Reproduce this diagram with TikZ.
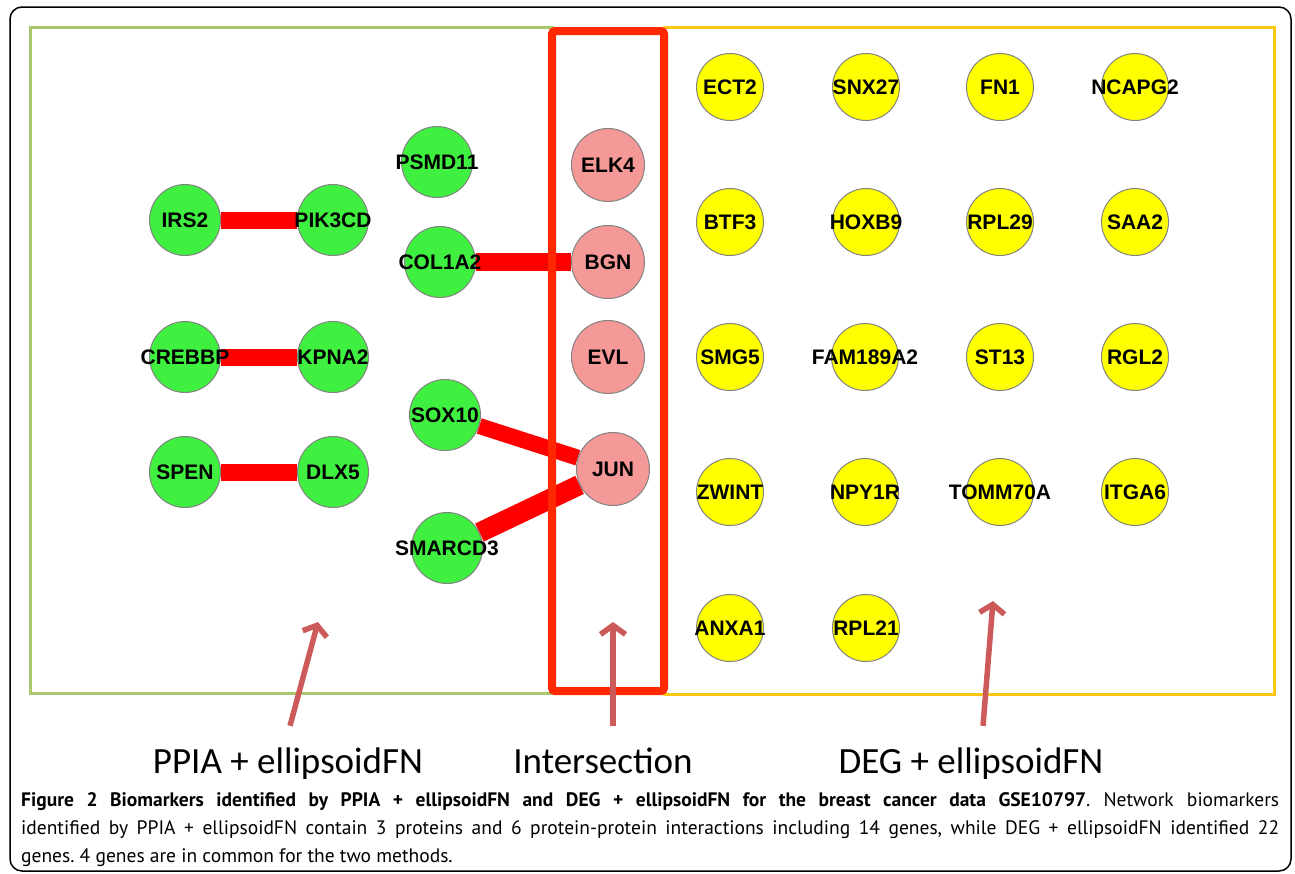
\documentclass[tikz,border=0pt]{standalone}
\usepackage{fontspec}
\setmainfont{Carlito}
\newfontfamily\genefont{Liberation Sans}
\newfontfamily\capfont{PT Sans}
\usetikzlibrary{arrows.meta,positioning}
\pgfdeclarelayer{background}
\pgfsetlayers{background,main}
\definecolor{BoxGreen}{RGB}{168,200,110}
\definecolor{BoxYellow}{RGB}{250,200,20}
\definecolor{BoxRed}{RGB}{255,40,0}
\definecolor{EdgeRed}{RGB}{255,0,0}
\definecolor{NodeGreen}{RGB}{64,240,64}
\definecolor{NodePink}{RGB}{245,152,152}
\definecolor{NodeYellow}{RGB}{255,255,0}
\definecolor{ArrowRed}{RGB}{205,90,90}
\definecolor{RimGray}{RGB}{130,130,130}

\begin{document}
\begin{tikzpicture}[x=1pt,y=-1pt,
    gene/.style={circle,draw=RimGray,line width=1pt,inner sep=0pt,minimum size=71pt},
    greengene/.style={gene,fill=NodeGreen},
    pinkgene/.style={gene,fill=NodePink,minimum size=73pt},
    yellowgene/.style={gene,fill=NodeYellow,minimum size=67pt},
    genename/.style={font=\genefont\bfseries\fontsize{21}{21}\selectfont,inner sep=0pt},
    ppi/.style={EdgeRed,line width=17pt},
    pointer/.style={ArrowRed,line width=5.5pt,-{Straight Barb[length=9pt,width=25pt]}},
    bigtag/.style={font=\fontsize{37}{37}\selectfont,anchor=base,inner sep=0pt,
      text height=26pt,text depth=8pt}]
  \useasboundingbox (0,0) rectangle (1295,873);
  \draw[line width=1.5pt,rounded corners=12pt] (10,7) rectangle (1291,871);

  % PPIA + ellipsoidFN
  \node[greengene,label={[genename]center:IRS2}] (irs2) at (185,220) {};
  \node[greengene,label={[genename]center:PIK3CD}] (pik3cd) at (333,220) {};
  \node[greengene,label={[genename]center:CREBBP}] (crebbp) at (185,357) {};
  \node[greengene,label={[genename]center:KPNA2}] (kpna2) at (333,357) {};
  \node[greengene,label={[genename]center:SPEN}] (spen) at (185,472) {};
  \node[greengene,label={[genename]center:DLX5}] (dlx5) at (333,472) {};
  \node[greengene,label={[genename]center:PSMD11}] (psmd11) at (437,162) {};
  \node[greengene,label={[genename]center:COL1A2}] (col1a2) at (440,262) {};
  \node[greengene,label={[genename]center:SOX10}] (sox10) at (445,415) {};
  \node[greengene,label={[genename]center:SMARCD3}] (smarcd3) at (447,548) {};

  % intersection
  \node[pinkgene,label={[genename]center:ELK4}] (elk4) at (608,165) {};
  \node[pinkgene,label={[genename]center:BGN}] (bgn) at (608,262) {};
  \node[pinkgene,label={[genename]center:EVL}] (evl) at (608,357) {};
  \node[pinkgene,label={[genename]center:JUN}] (jun) at (613,469) {};

  % DEG + ellipsoidFN
  \foreach \g/\x/\y in {ECT2/730/87,SNX27/866/87,FN1/1000/87,NCAPG2/1135/87,
      BTF3/730/222,HOXB9/866/222,RPL29/1000/222,SAA2/1135/222,
      SMG5/730/357,FAM189A2/865/357,ST13/1000/357,RGL2/1135/357,
      ZWINT/730/492,NPY1R/865/492,TOMM70A/1000/492,ITGA6/1135/492,
      ANXA1/730/628,RPL21/866/628}
    \node[yellowgene,label={[genename]center:\g}] (\g) at (\x,\y) {};

  \begin{pgfonlayer}{background}
    \draw[BoxGreen,line width=3pt] (30,27) rectangle (552,693);
    \draw[BoxYellow,line width=3pt] (664,27) rectangle (1274,694);
    \draw[ppi] (irs2) -- (pik3cd);
    \draw[ppi] (crebbp) -- (kpna2);
    \draw[ppi] (spen) -- (dlx5);
    \draw[ppi,line width=18pt] (col1a2) -- (bgn);
    \draw[ppi,line width=16pt] (sox10) -- (jun);
    \draw[ppi,line width=20pt] (smarcd3) -- (jun);
    \draw[BoxRed,line width=8pt,rounded corners=3pt] (552,31) rectangle (664,691);
  \end{pgfonlayer}

  \node[bigtag] (ppiatag) at (288,773) {PPIA + ellipsoidFN};
  \node[bigtag] (intertag) at (603,773) {Intersection};
  \node[bigtag] (degtag) at (971,773) {DEG + ellipsoidFN};
  \coordinate (ppiatip) at (318,622);
  \coordinate (intertip) at (613,622);
  \coordinate (degtip) at (993,601);
  \draw[pointer] ([xshift=2pt,yshift=21pt]ppiatag.north) -- (ppiatip);
  \draw[pointer] ([xshift=10pt,yshift=21pt]intertag.north) -- (intertip);
  \draw[pointer] ([xshift=12pt,yshift=21pt]degtag.north) -- (degtip);

  \node[anchor=north west,text width=1258pt,align=justify,inner sep=0pt,
    font=\capfont\fontsize{19.5}{28}\selectfont] (caption) at (21,792)
    {\frenchspacing\textbf{Figure 2 Biomarkers identified by PPIA + ellipsoidFN and DEG + ellipsoidFN
    for the breast cancer data GSE10797}. Network biomarkers\linebreak identified by
    PPIA + ellipsoidFN contain 3 proteins and 6 protein-protein interactions including
    14 genes, while DEG + ellipsoidFN identified 22\linebreak genes. 4 genes are in
    common for the two methods.};
\end{tikzpicture}
\end{document}
